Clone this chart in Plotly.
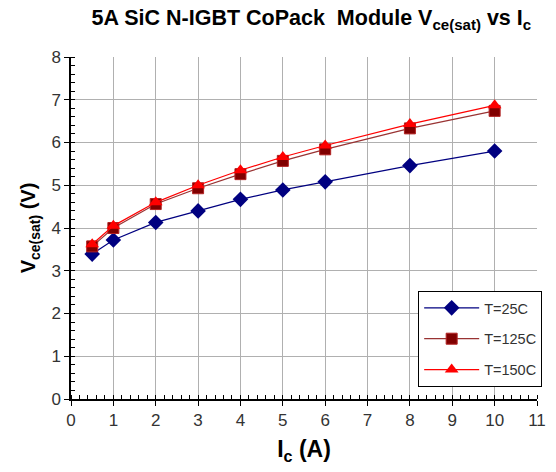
import plotly.graph_objects as go

current_a = [0.5, 1, 2, 3, 4, 5, 6, 8, 10]
v_25c = [3.39, 3.72, 4.13, 4.40, 4.67, 4.89, 5.08, 5.46, 5.80]
v_125c = [3.57, 4.00, 4.56, 4.93, 5.26, 5.57, 5.84, 6.33, 6.74]
v_150c = [3.62, 4.05, 4.60, 5.00, 5.35, 5.66, 5.93, 6.43, 6.87]
series_names = ["T=25C", "T=125C", "T=150C"]

fig = go.Figure()
fig.add_trace(go.Scatter(x=current_a, y=v_25c, name=series_names[0], mode="lines+markers",
                         legendgroup="a",
                         line=dict(color="#000080", width=1.2),
                         marker=dict(symbol="diamond", size=12, color="#000080")))
fig.add_trace(go.Scatter(x=current_a, y=v_125c, name=series_names[1], mode="lines+markers",
                         legendgroup="b",
                         line=dict(color="#993333", width=1.2),
                         marker=dict(symbol="square", size=11, color="#800000",
                                     line=dict(color="#B22222", width=1))))
fig.add_trace(go.Scatter(x=current_a, y=v_150c, name=series_names[2], mode="lines+markers",
                         legendgroup="c",
                         line=dict(color="#FF0000", width=1.2),
                         marker=dict(symbol="triangle-up", size=12, color="#FF0000")))

font_family = "Liberation Sans, Arial, sans-serif"
fig.update_layout(
    width=556, height=472,
    margin=dict(l=71, r=10, t=57, b=73),
    paper_bgcolor="white", plot_bgcolor="white",
    font=dict(family=font_family, color="#333333"),
    title=dict(text="<b>5A SiC N-IGBT CoPack  Module V<sub>ce(sat)</sub> vs I<sub>c</sub></b>",
               x=0.56, xanchor="center", y=0.962, yanchor="middle",
               font=dict(size=21.5, color="#000000", family=font_family)),
    showlegend=True,
    legend=dict(x=0.745, y=0.316, xanchor="left", yanchor="top",
                bgcolor="white", bordercolor="#000000", borderwidth=1,
                font=dict(size=14.5, color="#333333"), tracegroupgap=9,
                itemwidth=55),
)
fig.update_xaxes(
    range=[0, 11], dtick=1, tick0=0,
    showgrid=True, gridcolor="#B0B0B0", gridwidth=1,
    showline=True, linecolor="#000000", linewidth=1.5,
    ticks="outside", ticklen=5, tickcolor="#000000",
    minor=dict(dtick=0.2, ticks="inside", ticklen=4, tickcolor="#000000", showgrid=False),
    tickfont=dict(size=17, color="#333333"),
    zeroline=False,
    title=dict(text="<b>I<sub>c</sub> (A)</b>", font=dict(size=23, color="#000000"), standoff=12),
)
fig.update_yaxes(
    range=[0, 8], dtick=1, tick0=0,
    showgrid=True, gridcolor="#B0B0B0", gridwidth=1,
    showline=True, linecolor="#000000", linewidth=1.5,
    ticks="outside", ticklen=5, tickcolor="#000000",
    minor=dict(dtick=0.2, ticks="inside", ticklen=4, tickcolor="#000000", showgrid=False),
    tickfont=dict(size=17, color="#333333"),
    zeroline=False,
    title=dict(text="<b>V<sub>ce(sat)</sub> (V)</b>", font=dict(size=20, color="#000000"), standoff=10),
)

fig.write_html("out.html")
